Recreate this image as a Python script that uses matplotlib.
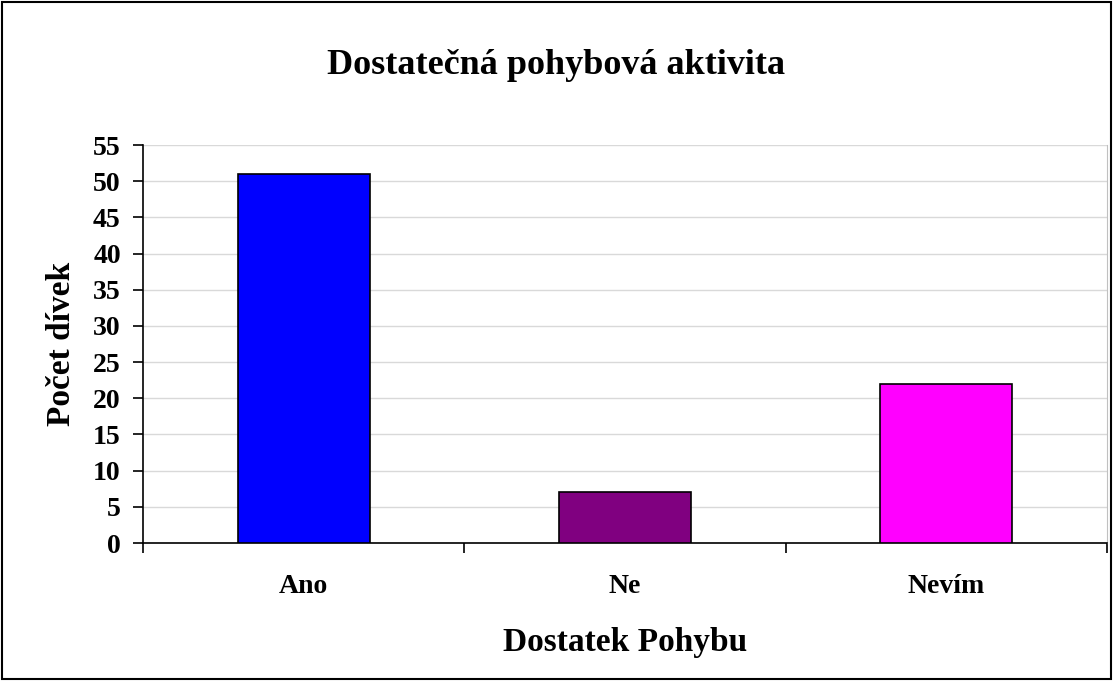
import matplotlib.pyplot as plt
from matplotlib.patches import Rectangle

categories = ['Ano', 'Ne', 'Nevím']
counts = [51, 7, 22]
colors = ['#0000ff', '#800080', '#ff00ff']
y_ticks = list(range(0, 56, 5))

plt.rcParams['font.family'] = ['Liberation Serif', 'DejaVu Serif']
plt.rcParams['font.weight'] = 'bold'

fig = plt.figure(figsize=(11.13, 6.81), dpi=100)
ax = fig.add_axes([0.1285, 0.2026, 0.8661, 0.5844])

x = range(len(categories))
ax.bar(x, counts, width=0.41, color=colors, edgecolor='black', linewidth=1.2, zorder=3)

ax.set_xlim(-0.5, len(categories) - 0.5)
ax.set_ylim(0, 55)
ax.set_yticks(y_ticks)
ax.set_yticklabels([str(t) for t in y_ticks], fontsize=20, fontweight='bold')
ax.yaxis.grid(True, color='#d9d9d9', linewidth=1, zorder=0)

# category labels sit between boundary ticks
ax.set_xticks([i - 0.5 for i in range(len(categories) + 1)])
ax.set_xticklabels([])
ax.set_xticks(list(x), minor=True)
ax.set_xticklabels(categories, minor=True, fontsize=20, fontweight='bold')
ax.tick_params(axis='x', which='major', direction='out', length=7, width=1.2)
ax.tick_params(axis='x', which='minor', length=0, pad=22)
ax.tick_params(axis='y', direction='out', length=7, width=1.2, pad=9)

ax.spines['top'].set_visible(False)
ax.spines['right'].set_color('#c0c0c0')
ax.spines['left'].set_linewidth(1.2)
ax.spines['bottom'].set_linewidth(1.2)

ax.set_ylabel('Počet dívek', fontsize=24, fontweight='bold', va='center')
ax.yaxis.set_label_coords(-0.085, 0.5)
ax.set_xlabel('Dostatek Pohybu', fontsize=24, fontweight='bold', va='center')
ax.xaxis.set_label_coords(0.5, -0.25)
fig.text(0.5, 0.904, 'Dostatečná pohybová aktivita', ha='center', va='center',
         fontsize=26, fontweight='bold')

# outer chart frame
fig.patches.append(Rectangle((0.002, 0.003), 0.996, 0.994, transform=fig.transFigure,
                             fill=False, edgecolor='black', linewidth=1.5))

fig.savefig('out.png', dpi=100)
